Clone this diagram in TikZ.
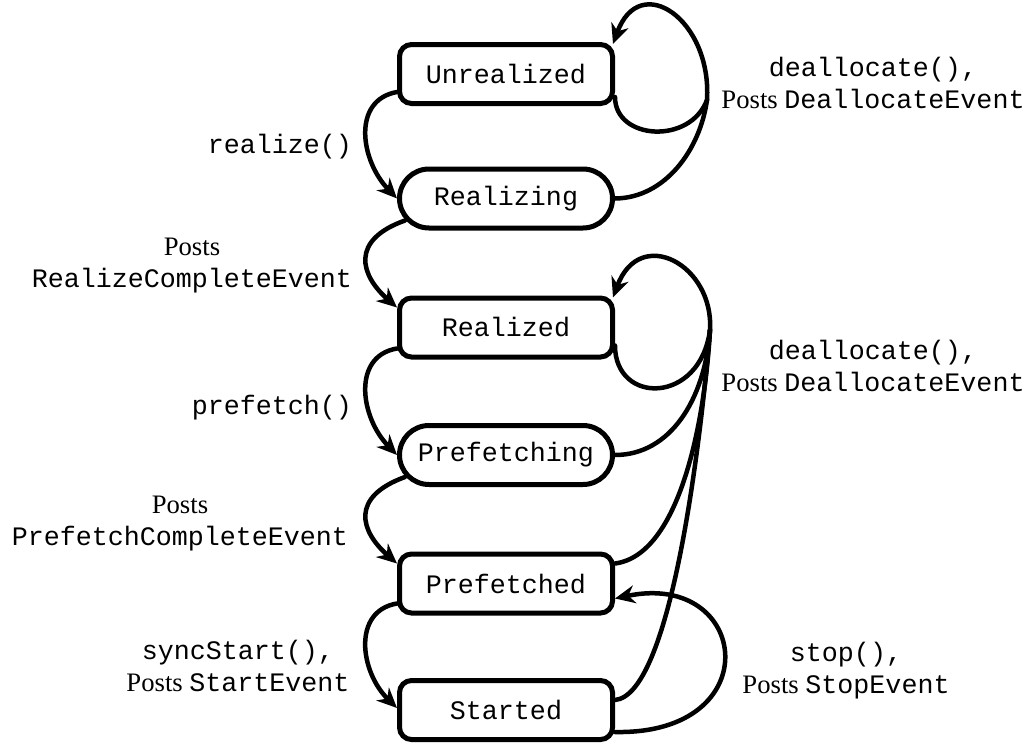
\documentclass[tikz,border=0pt]{standalone}
\usepackage{fontspec}
\setmainfont{Liberation Serif}
\setmonofont{Liberation Mono}
\usetikzlibrary{arrows.meta}
\begin{document}
\begin{tikzpicture}[x=1pt,y=-1pt,
  state/.style={draw, line width=5pt, fill=white, minimum width=213pt,
    minimum height=59pt, rounded corners=12pt, inner sep=0pt,
    font=\ttfamily\fontsize{26.67pt}{32pt}\selectfont},
  busy/.style={state, rounded corners=29.5pt},
  trans/.style={line width=4.5pt, line cap=round,
    -{Stealth[length=20pt,width=18pt]}},
  plain/.style={line width=4.5pt, line cap=round},
  lbl/.style={align=center, inner sep=0pt,
    font=\fontsize{26.67pt}{32pt}\selectfont}
]
\useasboundingbox (0,0) rectangle (1031,744);

% states of the player
\node[state] (unr) at (506,74)    {Unrealized};
\node[busy]  (rzg) at (506,198.5) {Realizing};
\node[state] (rzd) at (506,327.5) {Realized};
\node[busy]  (pfg) at (506,455)   {Prefetching};
\node[state] (pfd) at (506,583.5) {Prefetched};
\node[state] (stt) at (506,710)   {Started};

% junctions where the deallocate transitions merge
\coordinate (ju) at (707,100);
\coordinate (jl) at (710,330);

% forward transitions on the left
\draw[trans] ([yshift=-18pt]unr.west) .. controls (352,100) and (360,160) .. (rzg.west);
\draw[trans] ([xshift=8pt,yshift=-22pt]rzg.west) .. controls (350,240) and (360,275) .. ([yshift=20pt]rzd.west);
\draw[trans] ([yshift=-21pt]rzd.west) .. controls (352,356) and (360,417) .. (pfg.west);
\draw[trans] ([xshift=8pt,yshift=-22pt]pfg.west) .. controls (350,497) and (360,531) .. ([yshift=20pt]pfd.west);
\draw[trans] ([yshift=-20pt]pfd.west) .. controls (352,611) and (360,672) .. ([yshift=2pt]stt.west);

% deallocate back to Unrealized
\draw[plain] ([yshift=-23pt]unr.east) .. controls (615,140) and (690,145) .. (ju);
\draw[plain] (rzg.east) .. controls (665,198) and (700,150) .. (ju);
\draw[trans] (ju) .. controls (712,20) and (640,-30) .. ([xshift=-2pt,yshift=-2pt]unr.north east);

% deallocate back to Realized
\draw[plain] ([yshift=-18pt]rzd.east) .. controls (615,405) and (700,405) .. (jl);
\draw[plain] (pfg.east) .. controls (670,455) and (705,400) .. (jl);
\draw[plain] ([yshift=20pt]pfd.east) .. controls (680,555) and (705,420) .. (jl);
\draw[plain] ([yshift=10pt]stt.east) .. controls (670,695) and (700,450) .. (jl);
\draw[trans] (jl) .. controls (714,265) and (640,225) .. ([xshift=-2pt,yshift=-2pt]rzd.north east);

% stop
\draw[trans] ([yshift=-22pt]stt.east) .. controls (770,735) and (750,570) .. ([yshift=-15pt]pfd.east);

% transition labels
\node[lbl] (l1) at (280,147)   {\texttt{realize()}};
\node[lbl] (l2) at (192,265.5) {Posts\\\texttt{RealizeCompleteEvent}};
\node[lbl] (l3) at (272,408)   {\texttt{prefetch()}};
\node[lbl] (l4) at (180,523.5) {Posts\\\texttt{PrefetchCompleteEvent}};
\node[lbl] (l5) at (238,666)   {\texttt{syncStart(),}\\Posts \texttt{StartEvent}};
\node[lbl] (l6) at (873,83)    {\texttt{deallocate(),}\\Posts \texttt{DeallocateEvent}};
\node[lbl] (l7) at (873,366)   {\texttt{deallocate(),}\\Posts \texttt{DeallocateEvent}};
\node[lbl] (l8) at (846,671)   {\texttt{stop(),}\\Posts \texttt{StopEvent}};
\end{tikzpicture}
\end{document}
